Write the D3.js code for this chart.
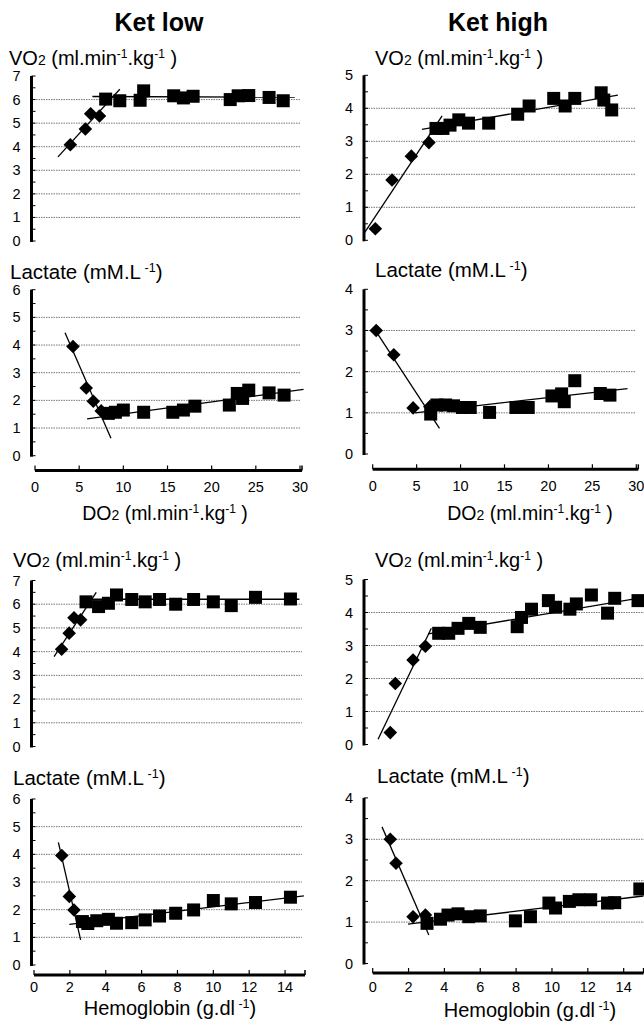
<!DOCTYPE html>
<html>
<head>
<meta charset="utf-8">
<script src="https://cdn.jsdelivr.net/npm/d3@7"></script>
<style>
  body { margin: 0; background: #fff; }
  svg { display: block; font-family: "Liberation Sans", Arial, sans-serif; }
</style>
</head>
<body>
<script>
// tick labels
const do2Ticks = [0, 5, 10, 15, 20, 25, 30];
const hbTicks = [0, 2, 4, 6, 8, 10, 12, 14];

// Ket low, DO2 panels  ([x, y] points, fits = [x0, y0, x1, y1])
const lowDo2VoDiamonds = [[4.0, 4.08], [5.7, 4.75], [6.3, 5.4], [7.3, 5.3]];
const lowDo2VoSquares = [[8.0, 6.02], [9.6, 5.95], [11.9, 5.97], [12.3, 6.37], [15.7, 6.16], [16.8, 6.07],
  [17.9, 6.14], [22.1, 6.0], [23.0, 6.16], [24.2, 6.17], [26.5, 6.09], [28.1, 5.95]];
const lowDo2VoFits = [[2.6, 3.57, 9.6, 6.44], [6.5, 6.13, 29.4, 6.1]];

const lowDo2LaDiamonds = [[4.3, 3.95], [5.8, 2.45], [6.6, 1.97], [7.5, 1.62]];
const lowDo2LaSquares = [[8.3, 1.53], [9.1, 1.57], [10.0, 1.65], [12.3, 1.57], [15.6, 1.57], [16.8, 1.65],
  [18.1, 1.79], [22.0, 1.83], [22.9, 2.25], [23.5, 2.07], [24.2, 2.37], [26.5, 2.27], [28.2, 2.19]];
const lowDo2LaFits = [[3.4, 4.44, 8.6, 0.63], [5.9, 1.33, 30.4, 2.4]];

// Ket high, DO2 panels
const highDo2VoDiamonds = [[0.3, 0.35], [2.2, 1.83], [4.4, 2.55], [6.4, 2.96]];
const highDo2VoSquares = [[7.2, 3.39], [8.0, 3.39], [8.8, 3.49], [9.8, 3.65], [10.9, 3.55], [13.2, 3.55],
  [16.5, 3.82], [17.8, 4.07], [20.6, 4.3], [21.9, 4.07], [23.0, 4.3], [26.0, 4.47], [26.3, 4.25], [27.2, 3.95]];
const highDo2VoFits = [[-1.0, 0.2, 7.9, 3.77], [5.6, 3.36, 27.9, 4.4]];

const highDo2LaDiamonds = [[0.4, 3.0], [2.4, 2.41], [4.6, 1.12], [6.5, 1.15]];
const highDo2LaSquares = [[6.6, 0.97], [7.3, 1.19], [8.3, 1.19], [9.2, 1.17], [10.2, 1.13], [11.1, 1.13],
  [13.3, 1.01], [16.3, 1.13], [17.7, 1.13], [20.4, 1.41], [21.5, 1.46], [21.8, 1.27], [23.0, 1.78],
  [25.9, 1.47], [27.0, 1.43]];
const highDo2LaFits = [[0.3, 3.0, 7.6, 0.62], [4.8, 1.0, 29.0, 1.59]];

// Ket low, hemoglobin panels
const lowHbVoDiamonds = [[1.54, 4.1], [1.96, 4.78], [2.23, 5.43], [2.6, 5.34]];
const lowHbVoSquares = [[2.9, 6.1], [3.6, 5.9], [4.15, 6.04], [4.6, 6.39], [5.45, 6.2], [6.2, 6.1],
  [7.0, 6.2], [7.9, 6.0], [8.9, 6.2], [10.0, 6.1], [11.0, 5.94], [12.35, 6.29], [14.3, 6.22]];
const lowHbVoFits = [[1.12, 3.79, 3.47, 6.5], [2.57, 6.21, 14.8, 6.21]];

const lowHbLaDiamonds = [[1.55, 3.96], [1.97, 2.48], [2.23, 1.99]];
const lowHbLaSquares = [[2.7, 1.57], [3.0, 1.5], [3.5, 1.6], [4.15, 1.65], [4.6, 1.51], [5.45, 1.53],
  [6.2, 1.63], [7.0, 1.77], [7.9, 1.87], [8.9, 1.99], [10.0, 2.33], [11.0, 2.21], [12.35, 2.26], [14.3, 2.45]];
const lowHbLaFits = [[1.36, 4.43, 2.6, 0.91], [1.97, 1.47, 15.05, 2.5]];

// Ket high, hemoglobin panels
const highHbVoDiamonds = [[0.98, 0.36], [1.26, 1.85], [2.25, 2.56], [2.94, 2.98]];
const highHbVoSquares = [[3.68, 3.37], [4.24, 3.37], [4.76, 3.52], [5.36, 3.67], [6.0, 3.55], [8.06, 3.57],
  [8.3, 3.85], [8.86, 4.1], [9.8, 4.36], [10.2, 4.16], [11.0, 4.1], [11.36, 4.26], [12.2, 4.53],
  [13.1, 3.98], [13.5, 4.43], [14.8, 4.36]];
const highHbVoFits = [[0.3, 0.16, 3.27, 3.52], [3.1, 3.35, 15.1, 4.46]];

const highHbLaDiamonds = [[0.98, 3.0], [1.3, 2.42], [2.25, 1.13], [2.94, 1.17]];
const highHbLaSquares = [[3.03, 0.97], [3.78, 1.07], [4.2, 1.17], [4.76, 1.2], [5.36, 1.13], [6.0, 1.15],
  [7.96, 1.03], [8.8, 1.13], [9.83, 1.46], [10.2, 1.34], [10.97, 1.5], [11.5, 1.54], [12.16, 1.54],
  [13.1, 1.46], [13.5, 1.47], [14.9, 1.8]];
const highHbLaFits = [[0.52, 3.3, 3.13, 0.69], [1.97, 0.95, 15.1, 1.63]];

const svg = d3.select("body").append("svg")
  .attr("width", 644)
  .attr("height", 1022);

// column titles
svg.append("text").attr("x", 159).attr("y", 31).attr("text-anchor", "middle")
  .attr("font-size", 25).attr("font-weight", "bold").text("Ket low");
svg.append("text").attr("x", 498).attr("y", 31).attr("text-anchor", "middle")
  .attr("font-size", 25).attr("font-weight", "bold").text("Ket high");

// axis title with sub/superscripts
function unitTitle(x, y, kind) {
  const t = svg.append("text").attr("x", x).attr("y", y).attr("font-size", 20);
  if (kind == "vo2" || kind == "do2") {
    if (kind == "do2") t.attr("text-anchor", "middle").attr("font-size", 19.5);
    t.append("tspan").text(kind == "vo2" ? "VO" : "DO");
    t.append("tspan").attr("font-size", 14).text("2");
    t.append("tspan").text(" (ml.min");
    t.append("tspan").attr("font-size", 12).attr("dy", -7).text("-1");
    t.append("tspan").attr("dy", 7).text(".kg");
    t.append("tspan").attr("font-size", 12).attr("dy", -7).text("-1");
    t.append("tspan").attr("dy", 7).text(" )");
  } else if (kind == "lac") {
    t.attr("font-size", 20.5);
    t.append("tspan").text("Lactate (mM.L");
    t.append("tspan").attr("font-size", 12.5).attr("dy", -7).text(" -1");
    t.append("tspan").attr("dy", 7).text(")");
  } else {
    t.attr("text-anchor", "middle");
    t.append("tspan").text("Hemoglobin (g.dl");
    t.append("tspan").attr("font-size", 12.5).attr("dy", -7).text(" -1");
    t.append("tspan").attr("dy", 7).text(")");
  }
}

// one scatter panel
function drawPanel(p) {
  const x = d3.scaleLinear().domain(p.xDomain).range(p.xRange);
  const y = d3.scaleLinear().domain([0, p.yMax]).range(p.yRange);
  const g = svg.append("g");

  // dotted gridlines
  g.selectAll(".grid").data(d3.range(1, p.yMax)).join("line")
    .attr("x1", p.axisX + 2).attr("x2", p.gridEnd)
    .attr("y1", d => y(d)).attr("y2", d => y(d))
    .attr("stroke", "#555").attr("stroke-width", 0.8).attr("stroke-dasharray", "1.5,1");

  // y axis
  g.append("line").attr("x1", p.axisX).attr("x2", p.axisX)
    .attr("y1", y(p.yMax)).attr("y2", y(0) + 1)
    .attr("stroke", "#000").attr("stroke-width", 3);
  g.selectAll(".ytick").data(d3.range(0, p.yMax + 0.01, 0.5)).join("line")
    .attr("x1", p.axisX).attr("x2", p.axisX + 4)
    .attr("y1", d => y(d)).attr("y2", d => y(d))
    .attr("stroke", "#000").attr("stroke-width", 1);
  g.selectAll(".ylab").data(d3.range(0, p.yMax + 1)).join("text")
    .attr("x", p.axisX - 11).attr("y", d => y(d) + 5)
    .attr("text-anchor", "end").attr("font-size", 14.5)
    .text(d => d);

  // x axis (only under lactate panels)
  if (p.xAxisY) {
    const xEnd = x(p.xDomain[1]) + 2;
    g.append("line").attr("x1", x(0)).attr("x2", xEnd)
      .attr("y1", p.xAxisY).attr("y2", p.xAxisY)
      .attr("stroke", "#000").attr("stroke-width", 3);
    g.selectAll(".xtick").data(p.ticks).join("line")
      .attr("x1", d => x(d)).attr("x2", d => x(d))
      .attr("y1", p.xAxisY).attr("y2", p.xAxisY - 5)
      .attr("stroke", "#000").attr("stroke-width", 1.2);
    g.append("line").attr("x1", xEnd).attr("x2", xEnd)
      .attr("y1", p.xAxisY).attr("y2", p.xAxisY - 5)
      .attr("stroke", "#000").attr("stroke-width", 1.5);
    g.selectAll(".xlab").data(p.ticks).join("text")
      .attr("x", d => x(d)).attr("y", p.xAxisY + p.labelGap)
      .attr("text-anchor", "middle").attr("font-size", 14.5)
      .text(d => d);
  }

  // fitted lines
  g.selectAll(".fit").data(p.fits).join("line")
    .attr("x1", d => x(d[0])).attr("y1", d => y(d[1]))
    .attr("x2", d => x(d[2])).attr("y2", d => y(d[3]))
    .attr("stroke", "#000").attr("stroke-width", 1.3);

  // markers
  g.selectAll(".dia").data(p.diamonds).join("path")
    .attr("d", d3.symbol().type(d3.symbolSquare).size(92))
    .attr("transform", d => "translate(" + x(d[0]) + "," + y(d[1]) + ") rotate(45)")
    .attr("fill", "#000");
  g.selectAll(".sq").data(p.squares).join("path")
    .attr("d", d3.symbol().type(d3.symbolSquare).size(169))
    .attr("transform", d => "translate(" + x(d[0]) + "," + y(d[1]) + ")")
    .attr("fill", "#000");
}

const panels = [
  { xDomain: [0, 30], xRange: [35, 300], axisX: 31.5, gridEnd: 300, yMax: 7, yRange: [241, 76],
    diamonds: lowDo2VoDiamonds, squares: lowDo2VoSquares, fits: lowDo2VoFits },
  { xDomain: [0, 30], xRange: [35, 300], axisX: 31.5, gridEnd: 300, yMax: 6, yRange: [455.7, 289.7],
    diamonds: lowDo2LaDiamonds, squares: lowDo2LaSquares, fits: lowDo2LaFits,
    xAxisY: 470.5, labelGap: 21, ticks: do2Ticks },
  { xDomain: [0, 30], xRange: [372.7, 636.3], axisX: 364, gridEnd: 636, yMax: 5, yRange: [240.3, 75.3],
    diamonds: highDo2VoDiamonds, squares: highDo2VoSquares, fits: highDo2VoFits },
  { xDomain: [0, 30], xRange: [372.7, 636.3], axisX: 364, gridEnd: 636, yMax: 4, yRange: [454, 289.3],
    diamonds: highDo2LaDiamonds, squares: highDo2LaSquares, fits: highDo2LaFits,
    xAxisY: 469.3, labelGap: 22, ticks: do2Ticks },
  { xDomain: [0, 15], xRange: [34, 303], axisX: 31.5, gridEnd: 302, yMax: 7, yRange: [746.5, 580.5],
    diamonds: lowHbVoDiamonds, squares: lowHbVoSquares, fits: lowHbVoFits },
  { xDomain: [0, 15], xRange: [34, 303], axisX: 31.5, gridEnd: 302, yMax: 6, yRange: [965, 799],
    diamonds: lowHbLaDiamonds, squares: lowHbLaSquares, fits: lowHbLaFits,
    xAxisY: 975, labelGap: 16.5, ticks: hbTicks },
  { xDomain: [0, 15], xRange: [372.7, 641.6], axisX: 364, gridEnd: 644, yMax: 5, yRange: [744.5, 579.5],
    diamonds: highHbVoDiamonds, squares: highHbVoSquares, fits: highHbVoFits },
  { xDomain: [0, 15], xRange: [372.7, 641.6], axisX: 364, gridEnd: 644, yMax: 4, yRange: [963.5, 797.9],
    diamonds: highHbLaDiamonds, squares: highHbLaSquares, fits: highHbLaFits,
    xAxisY: 973, labelGap: 19, ticks: hbTicks }
];

panels.forEach(drawPanel);

// axis titles
unitTitle(9, 65, "vo2");
unitTitle(375, 65, "vo2");
unitTitle(10, 279, "lac");
unitTitle(375, 277, "lac");
unitTitle(165, 520, "do2");
unitTitle(530, 520, "do2");
unitTitle(13, 567, "vo2");
unitTitle(375, 567, "vo2");
unitTitle(13, 785, "lac");
unitTitle(377, 783, "lac");
unitTitle(170, 1015, "hb");
unitTitle(530, 1017, "hb");
</script>
</body>
</html>
